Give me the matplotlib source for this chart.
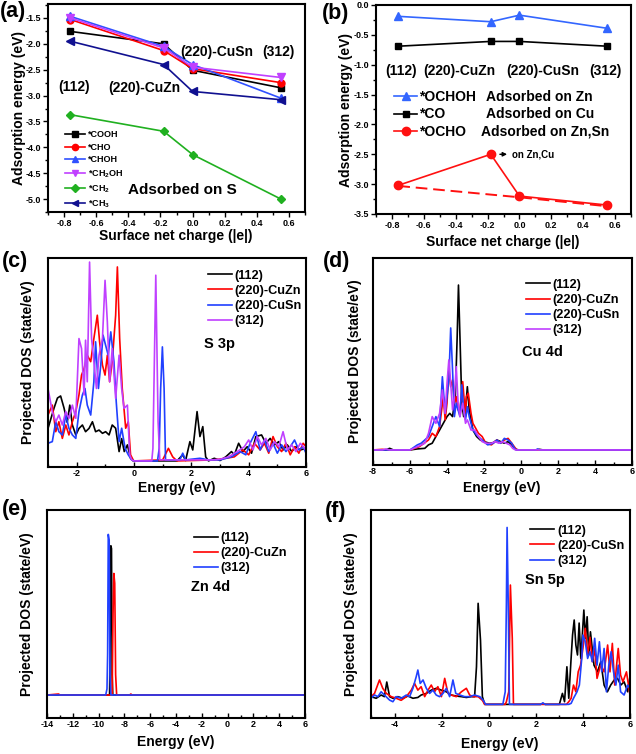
import numpy as np
import matplotlib
matplotlib.use("Agg")
import matplotlib.pyplot as plt
from matplotlib.ticker import MultipleLocator

plt.rcParams['font.family'] = ['Liberation Sans', 'DejaVu Sans']
plt.rcParams['font.weight'] = 'bold'
plt.rcParams['mathtext.default'] = 'regular'
plt.rcParams['axes.unicode_minus'] = False

W, H = 636, 754

# ---------------- data ----------------
charge = [-0.76, -0.18, 0.0, 0.55]

# panel (a), adsorbed on S
e_cooh = [-1.76, -2.00, -2.51, -2.85]
e_cho = [-1.53, -2.13, -2.48, -2.75]
e_choh = [-1.47, -2.05, -2.40, -3.05]
e_ch2oh = [-1.50, -2.08, -2.45, -2.65]
e_ch2 = [-3.37, -3.69, -4.14, -5.00]
e_ch3 = [-1.95, -2.40, -2.92, -3.08]

# panel (b)
e_ochoh = [-0.19, -0.28, -0.17, -0.39]
e_co = [-0.69, -0.61, -0.61, -0.69]
e_ocho = [-3.02, -2.50, -3.20, -3.35]
e_ocho_dash = [-3.03, -3.22, -3.37]
charge_dash = [-0.76, 0.0, 0.55]

facets_ab = ['(112)', '(220)-CuZn', '(220)-CuSn', '(312)']

# panel (c) S 3p, (energy eV, PDOS)
c_112 = [(-3.0, 1.6), (-2.79, 2.6), (-2.67, 3.1), (-2.56, 3.2), (-2.44, 2.6), (-2.33, 1.9),
         (-2.24, 2.75), (-2.15, 1.77), (-2.03, 1.28), (-1.92, 1.6), (-1.80, 1.77), (-1.69, 1.44),
         (-1.57, 1.6), (-1.45, 1.93), (-1.34, 1.44), (-1.22, 1.52), (-1.10, 1.36), (-0.99, 1.44),
         (-0.87, 1.28), (-0.76, 1.77), (-0.64, 1.61), (-0.52, 0.46), (-0.43, 1.1), (-0.34, 0.46),
         (-0.23, 0.79), (-0.12, 0.13), (-0.03, 0.0), (1.5, 0.0), (1.7, 0.3), (1.8, 0.02),
         (1.95, 0.95), (2.05, 0.54), (2.2, 2.43), (2.3, 1.2), (2.4, 1.69), (2.5, 0.2), (2.6, 0.0),
         (2.8, 0.13), (3.0, 0.02), (3.2, 0.2), (3.4, 0.46), (3.5, 0.3), (3.65, 0.87), (3.8, 0.46),
         (3.95, 0.7), (4.1, 0.38), (4.25, 1.2), (4.45, 1.28), (4.6, 0.87), (4.75, 1.11), (4.9, 0.79),
         (5.05, 0.95), (5.2, 0.54), (5.35, 0.79), (5.5, 0.46), (5.65, 0.7), (5.8, 0.54), (6.0, 0.62)]
c_cuzn = [(-3.0, 2.26), (-2.85, 2.75), (-2.73, 1.44), (-2.62, 1.93), (-2.50, 1.11), (-2.38, 1.77),
          (-2.27, 1.28), (-2.15, 1.93), (-2.03, 2.43), (-1.92, 3.25), (-1.83, 4.23), (-1.74, 4.56),
          (-1.63, 5.21), (-1.51, 4.89), (-1.40, 6.03), (-1.28, 7.18), (-1.20, 5.87), (-1.10, 4.72),
          (-1.01, 4.23), (-0.93, 5.21), (-0.85, 3.9), (-0.76, 4.89), (-0.64, 7.18), (-0.58, 9.56),
          (-0.50, 6.03), (-0.41, 3.57), (-0.29, 1.61), (-0.20, 1.93), (-0.12, 0.3), (-0.03, 0.05),
          (0.0, 0.0), (1.0, 0.05), (1.2, 0.62), (1.35, 0.2), (1.5, 0.0), (2.8, 0.05), (3.2, 0.13),
          (3.5, 0.2), (3.8, 0.54), (4.0, 0.3), (4.2, 0.87), (4.4, 0.54), (4.55, 0.87), (4.7, 0.38),
          (4.85, 1.2), (5.0, 0.7), (5.15, 0.46), (5.3, 0.87), (5.45, 0.3), (5.6, 0.7), (5.75, 0.38),
          (5.9, 0.87), (6.0, 0.7)]
c_cusn = [(-3.0, 0.87), (-2.85, 0.95), (-2.73, 1.93), (-2.62, 1.44), (-2.50, 1.28), (-2.38, 2.26),
          (-2.27, 1.61), (-2.15, 1.28), (-2.03, 1.11), (-1.92, 2.43), (-1.80, 3.25), (-1.71, 3.57),
          (-1.63, 2.75), (-1.51, 2.26), (-1.40, 3.9), (-1.34, 5.87), (-1.24, 3.57), (-1.16, 4.72),
          (-1.08, 6.2), (-0.99, 5.7), (-0.90, 5.21), (-0.81, 6.36), (-0.70, 4.89), (-0.62, 2.92),
          (-0.52, 0.95), (-0.43, 1.61), (-0.31, 0.62), (-0.20, 0.3), (-0.08, 0.05), (0.0, 0.0),
          (0.82, 0.0), (0.88, 0.62), (0.93, 3.57), (0.99, 5.62), (1.05, 3.57), (1.1, 0.05),
          (1.6, 0.05), (1.7, 0.38), (1.8, 0.05), (2.3, 0.13), (2.6, 0.05), (3.0, 0.05), (3.4, 0.2),
          (3.7, 0.46), (3.9, 0.3), (4.05, 0.87), (4.25, 1.44), (4.4, 0.54), (4.55, 1.03), (4.7, 0.46),
          (4.85, 0.87), (5.0, 0.38), (5.15, 0.79), (5.3, 0.46), (5.45, 0.7), (5.6, 1.03), (5.75, 0.54),
          (5.9, 0.7), (6.0, 0.38)]
c_312 = [(-3.0, 3.57), (-2.85, 2.43), (-2.73, 1.93), (-2.62, 2.26), (-2.50, 1.77), (-2.38, 2.43),
         (-2.27, 2.1), (-2.15, 2.75), (-2.03, 2.1), (-1.92, 6.03), (-1.83, 5.54), (-1.74, 3.25),
         (-1.69, 5.95), (-1.63, 3.9), (-1.55, 9.8), (-1.48, 6.03), (-1.40, 4.89), (-1.31, 3.57),
         (-1.22, 5.21), (-1.10, 6.03), (-1.01, 8.9), (-0.93, 6.85), (-0.85, 3.9), (-0.76, 5.54),
         (-0.64, 3.08), (-0.52, 5.21), (-0.43, 3.57), (-0.35, 2.59), (-0.23, 2.75), (-0.15, 0.3),
         (-0.08, 0.05), (0.0, 0.0), (0.62, 0.0), (0.66, 0.62), (0.76, 9.15), (0.84, 1.93),
         (0.9, 0.05), (2.7, 0.05), (3.0, 0.08), (3.3, 0.2), (3.6, 0.46), (3.85, 0.7), (4.0, 1.03),
         (4.15, 0.54), (4.3, 1.2), (4.45, 0.79), (4.6, 1.11), (4.75, 0.54), (4.9, 0.95), (5.05, 0.7),
         (5.2, 1.44), (5.35, 0.54), (5.5, 0.79), (5.65, 0.46), (5.8, 0.87), (6.0, 0.54)]

# panel (d) Cu 4d
d_112 = [(-8.0, 0.0), (-7.3, 0.0), (-7.1, 0.08), (-6.9, 0.0), (-6.0, 0.0), (-5.6, 0.05), (-5.2, 0.08),
         (-5.0, 0.25), (-4.8, 0.33), (-4.6, 0.66), (-4.4, 0.98), (-4.2, 1.31), (-4.0, 1.64),
         (-3.85, 1.8), (-3.7, 1.64), (-3.55, 2.62), (-3.45, 5.57), (-3.38, 8.11), (-3.3, 5.57),
         (-3.2, 2.3), (-3.1, 1.64), (-3.0, 1.97), (-2.9, 3.11), (-2.8, 1.97), (-2.7, 1.48),
         (-2.6, 0.98), (-2.4, 0.66), (-2.2, 0.49), (-2.0, 0.41), (-1.7, 0.33), (-1.5, 0.36),
         (-1.3, 0.49), (-1.1, 0.41), (-0.9, 0.33), (-0.7, 0.41), (-0.5, 0.25), (-0.3, 0.03),
         (-0.1, 0.0), (0.8, 0.0), (1.0, 0.03), (1.2, 0.0), (6.0, 0.0)]
d_cuzn = [(-8.0, 0.0), (-7.5, 0.03), (-7.2, 0.0), (-6.0, 0.0), (-5.5, 0.16), (-5.0, 0.49), (-4.8, 0.82),
          (-4.6, 0.66), (-4.4, 1.15), (-4.2, 2.62), (-4.1, 1.48), (-4.0, 2.3), (-3.9, 3.93),
          (-3.8, 3.11), (-3.7, 3.44), (-3.6, 2.3), (-3.5, 2.62), (-3.4, 1.97), (-3.3, 1.97),
          (-3.15, 3.36), (-3.0, 1.64), (-2.95, 2.62), (-2.85, 2.79), (-2.7, 1.8), (-2.6, 1.31),
          (-2.5, 1.15), (-2.3, 0.82), (-2.1, 0.66), (-1.9, 0.33), (-1.6, 0.25), (-1.3, 0.49),
          (-1.1, 0.33), (-0.9, 0.49), (-0.7, 0.57), (-0.5, 0.33), (-0.3, 0.08), (-0.2, 0.0), (6.0, 0.0)]
d_cusn = [(-8.0, 0.0), (-6.0, 0.0), (-5.6, 0.25), (-5.4, 0.33), (-5.2, 0.49), (-5.0, 0.66), (-4.8, 1.15),
          (-4.6, 1.64), (-4.4, 1.15), (-4.25, 3.6), (-4.1, 1.8), (-4.0, 2.62), (-3.9, 3.44),
          (-3.8, 6.0), (-3.7, 3.93), (-3.6, 1.64), (-3.5, 2.3), (-3.4, 1.97), (-3.3, 1.64),
          (-3.2, 3.2), (-3.1, 1.97), (-3.0, 1.48), (-2.9, 2.13), (-2.8, 1.64), (-2.6, 0.98),
          (-2.4, 0.74), (-2.2, 0.57), (-2.0, 0.41), (-1.8, 0.25), (-1.5, 0.33), (-1.3, 0.49),
          (-1.1, 0.33), (-0.9, 0.57), (-0.7, 0.49), (-0.5, 0.33), (-0.35, 0.08), (-0.25, 0.0),
          (0.8, 0.0), (0.9, 0.05), (1.0, 0.0), (6.0, 0.0)]
d_312 = [(-8.0, 0.0), (-7.5, 0.0), (-7.3, 0.05), (-7.1, 0.0), (-6.0, 0.0), (-5.6, 0.16), (-5.2, 0.33),
         (-5.0, 0.82), (-4.8, 1.64), (-4.6, 1.31), (-4.4, 1.8), (-4.25, 2.95), (-4.1, 1.8),
         (-4.0, 3.28), (-3.9, 4.43), (-3.85, 3.93), (-3.7, 1.97), (-3.6, 2.62), (-3.5, 4.1),
         (-3.4, 2.3), (-3.3, 1.64), (-3.15, 2.3), (-3.0, 1.31), (-2.9, 1.48), (-2.7, 0.98),
         (-2.5, 0.98), (-2.3, 0.66), (-2.1, 0.41), (-1.9, 0.33), (-1.6, 0.33), (-1.4, 0.41),
         (-1.2, 0.33), (-1.0, 0.41), (-0.8, 0.33), (-0.6, 0.25), (-0.45, 0.08), (-0.3, 0.0), (6.0, 0.0)]

# panel (e) Zn 4d
e_112 = [(-14.0, 0.0), (-9.15, 0.0), (-9.1, 3.0), (-9.05, 7.34), (-9.0, 7.2), (-8.95, 1.0),
         (-8.9, 0.0), (6.0, 0.0)]
e_cuzn = [(-14.0, 0.0), (-13.1, 0.05), (-13.0, 0.0), (-8.95, 0.0), (-8.88, 4.0), (-8.82, 5.98),
          (-8.75, 5.5), (-8.68, 1.0), (-8.6, 0.0), (-7.6, 0.0), (-7.5, 0.05), (-7.4, 0.0), (6.0, 0.0)]
e_312 = [(-14.0, 0.0), (-9.45, 0.0), (-9.35, 0.3), (-9.3, 2.0), (-9.25, 7.9), (-9.18, 7.6),
         (-9.12, 1.0), (-9.05, 0.0), (6.0, 0.0)]

# panel (f) Sn 5p
f_112 = [(-5.0, 0.38), (-4.78, 0.3), (-4.57, 0.46), (-4.43, 0.38), (-4.33, 1.1), (-4.21, 0.38),
         (-4.07, 0.3), (-3.86, 0.38), (-3.65, 0.3), (-3.43, 0.41), (-3.22, 0.3), (-3.01, 0.34),
         (-2.87, 0.46), (-2.65, 0.54), (-2.44, 0.7), (-2.23, 0.79), (-2.01, 0.7), (-1.8, 0.62),
         (-1.59, 0.46), (-1.38, 0.41), (-1.16, 0.38), (-0.95, 0.34), (-0.74, 0.38), (-0.6, 0.38),
         (-0.52, 1.85), (-0.45, 4.97), (-0.35, 3.16), (-0.27, 0.38), (-0.17, 0.0), (2.2, 0.0),
         (2.3, 0.05), (2.4, 0.0), (3.0, 0.0), (3.13, 0.54), (3.22, 0.13), (3.32, 1.85), (3.4, 0.3),
         (3.49, 2.1), (3.56, 3.41), (3.63, 4.15), (3.7, 2.92), (3.77, 2.43), (3.84, 4.0), (3.91, 2.26),
         (3.98, 3.49), (4.04, 4.64), (4.11, 3.25), (4.18, 4.31), (4.25, 2.43), (4.32, 3.57),
         (4.47, 1.93), (4.62, 1.6), (4.76, 2.1), (4.9, 0.95), (5.04, 0.62), (5.18, 0.95), (5.33, 1.2),
         (5.47, 1.28), (5.61, 0.95), (5.75, 1.11), (5.9, 0.62), (6.0, 1.36)]
f_cusn = [(-5.0, 0.38), (-4.85, 0.54), (-4.64, 1.2), (-4.5, 0.79), (-4.35, 0.54), (-4.14, 0.38),
          (-3.93, 0.3), (-3.72, 0.2), (-3.5, 0.38), (-3.29, 0.7), (-3.15, 1.03), (-3.01, 0.7),
          (-2.87, 0.87), (-2.72, 0.38), (-2.58, 0.7), (-2.44, 0.95), (-2.3, 0.62), (-2.16, 0.87),
          (-2.01, 0.38), (-1.87, 1.28), (-1.73, 0.54), (-1.59, 0.46), (-1.38, 0.38), (-1.16, 0.62),
          (-0.95, 0.79), (-0.81, 0.46), (-0.67, 0.38), (-0.45, 0.38), (-0.27, 0.2), (-0.17, 0.0),
          (0.7, 0.0), (0.75, 0.13), (0.85, 0.62), (0.92, 5.87), (1.0, 3.25), (1.05, 0.0), (3.3, 0.0),
          (3.4, 0.13), (3.5, 0.3), (3.6, 0.95), (3.7, 0.62), (3.8, 1.6), (3.9, 1.93), (4.0, 2.75),
          (4.1, 3.74), (4.2, 2.43), (4.3, 3.3), (4.4, 2.1), (4.5, 2.75), (4.6, 1.28), (4.75, 1.93),
          (4.9, 1.6), (5.05, 2.92), (5.15, 1.6), (5.25, 3.0), (5.35, 0.95), (5.5, 2.75), (5.6, 1.44),
          (5.7, 1.11), (5.85, 1.6), (6.0, 0.46)]
f_312 = [(-5.0, 0.3), (-4.85, 0.46), (-4.71, 0.38), (-4.57, 0.62), (-4.43, 0.46), (-4.21, 0.21),
         (-4.07, 0.13), (-3.93, 0.38), (-3.72, 0.3), (-3.5, 0.46), (-3.36, 0.38), (-3.22, 0.79),
         (-3.08, 1.36), (-3.01, 1.69), (-2.91, 1.03), (-2.79, 1.2), (-2.65, 0.79), (-2.51, 0.54),
         (-2.37, 0.7), (-2.23, 0.46), (-2.09, 0.38), (-1.94, 0.54), (-1.8, 0.79), (-1.66, 0.38),
         (-1.52, 1.2), (-1.4, 0.54), (-1.23, 0.46), (-1.02, 0.38), (-0.81, 0.38), (-0.6, 0.46),
         (-0.38, 0.38), (-0.24, 0.21), (-0.13, 0.0), (0.6, 0.0), (0.7, 0.62), (0.75, 4.9),
         (0.78, 8.7), (0.83, 4.9), (0.88, 0.0), (2.2, 0.0), (2.3, 0.07), (2.4, 0.0), (3.4, 0.0),
         (3.5, 0.05), (3.6, 0.3), (3.75, 0.62), (3.85, 0.95), (3.95, 2.26), (4.0, 3.41), (4.1, 3.08),
         (4.2, 2.26), (4.3, 2.59), (4.4, 2.1), (4.5, 3.25), (4.6, 1.93), (4.7, 3.08), (4.8, 1.61),
         (4.9, 2.75), (5.0, 0.62), (5.1, 1.93), (5.2, 2.59), (5.3, 1.61), (5.4, 0.95), (5.5, 1.93),
         (5.6, 0.62), (5.75, 0.46), (5.9, 0.95), (6.0, 0.79)]

BLACK, RED, BLUE, PURPLE = '#000000', '#ff0000', '#2040ff', '#c040ff'


def px_axes(l, t, r, b):
    return fig.add_axes([l / W, 1 - b / H, (r - l) / W, (b - t) / H])


def style(ax, inward):
    for s in ax.spines.values():
        s.set_linewidth(1.5)
    ax.tick_params(which='both', direction='in' if inward else 'out', width=1.0,
                   labelsize=6.5, pad=1.5)
    ax.tick_params(which='major', length=3.5)
    ax.tick_params(which='minor', length=2)
    for lab in ax.get_xticklabels() + ax.get_yticklabels():
        lab.set_fontweight('bold')


def label(x, y, s, rot=0, size=10):
    fig.text(x / W, 1 - y / H, s, ha='center', va='center', rotation=rot,
             fontsize=size, fontweight='bold')


fig = plt.figure(figsize=(W / 100, H / 100), dpi=100)

# ---------------- (a) ----------------
ax = px_axes(48, 4, 305, 212)
ax.plot(charge, e_cooh, '-s', color='black', ms=5, lw=1.2, label='*COOH')
ax.plot(charge, e_cho, '-o', color='#ff0000', ms=5, lw=1.2, label='*CHO')
ax.plot(charge, e_choh, '-^', color='#3050ff', ms=5.5, lw=1.2, label='*CHOH')
ax.plot(charge, e_ch2oh, '-v', color='#c040ff', ms=5.5, lw=1.2, label='*CH$_2$OH')
ax.plot(charge, e_ch2, '-D', color='#20b020', ms=4.5, lw=1.2, label='*CH$_2$')
ax.plot(charge, e_ch3, '-<', color='#101090', ms=5.5, lw=1.2, label='*CH$_3$')
ax.set_xlim(-0.9, 0.7)
ax.set_ylim(-5.25, -1.23)
ax.xaxis.set_major_locator(MultipleLocator(0.2))
ax.xaxis.set_minor_locator(MultipleLocator(0.1))
ax.yaxis.set_major_locator(MultipleLocator(0.5))
ax.yaxis.set_minor_locator(MultipleLocator(0.25))
style(ax, False)
leg = ax.legend(loc='upper left', bbox_to_anchor=(0.05, 0.415), frameon=False,
                fontsize=6.5, handlelength=2.2, labelspacing=0.4, borderpad=0,
                handletextpad=0.3, markerscale=0.9)
for t in leg.get_texts():
    t.set_fontweight('bold')
ax.text(-0.74, -2.83, facets_ab[0], ha='center', va='center', fontsize=10, fontweight='bold')
ax.text(-0.30, -2.86, facets_ab[1], ha='center', va='center', fontsize=10, fontweight='bold')
ax.text(0.15, -2.15, facets_ab[2], ha='center', va='center', fontsize=10, fontweight='bold')
ax.text(0.535, -2.15, facets_ab[3], ha='center', va='center', fontsize=10, fontweight='bold')
ax.text(-0.065, -4.83, 'Adsorbed on S', ha='center', va='center', fontsize=11, fontweight='bold')

# ---------------- (b) ----------------
ax = px_axes(376, 5, 631, 214)
ax.plot(charge, e_ochoh, '-^', color='#3366ff', ms=6, lw=1.2, label='*OCHOH')
ax.plot(charge, e_co, '-s', color='black', ms=5, lw=1.2, label='*CO')
ax.plot(charge, e_ocho, '-o', color='#ff1010', ms=6, lw=1.2, label='*OCHO')
ax.plot(charge_dash, e_ocho_dash, color='#ff1010', lw=1.4, dashes=(6, 3))
ax.set_xlim(-0.9, 0.7)
ax.set_ylim(-3.5, 0.0)
ax.xaxis.set_major_locator(MultipleLocator(0.2))
ax.xaxis.set_minor_locator(MultipleLocator(0.1))
ax.yaxis.set_major_locator(MultipleLocator(0.5))
ax.yaxis.set_minor_locator(MultipleLocator(0.25))
style(ax, False)
leg = ax.legend(loc='upper left', bbox_to_anchor=(0.045, 0.627), frameon=False,
                fontsize=10, handlelength=1.6, labelspacing=0.25, borderpad=0,
                handletextpad=0.2)
for t in leg.get_texts():
    t.set_fontweight('bold')
for y, s in zip([0.561, 0.477, 0.394], ['Adsorbed on Zn', 'Adsorbed on Cu', 'Adsorbed on Zn,Sn']):
    ax.text(0.43 if 'Sn' not in s else 0.41, y, s, transform=ax.transAxes, ha='left',
            va='center', fontsize=10, fontweight='bold')
for x, s in zip([-0.745, -0.38, 0.145, 0.54], facets_ab):
    ax.text(x, -1.10, s, ha='center', va='center', fontsize=10, fontweight='bold')
ax.annotate('', xy=(-0.06, -2.5), xytext=(-0.14, -2.5),
            arrowprops=dict(arrowstyle='-|>', color='black', lw=1.0, mutation_scale=6))
ax.text(-0.045, -2.5, 'on Zn,Cu', ha='left', va='center', fontsize=7, fontweight='bold')


def dos_panel(box, curves, labels, colors, xlim, ylim, title, legpos, titlepos, xmaj):
    ax = px_axes(*box)
    for data, lab, col in zip(curves, labels, colors):
        arr = np.array(data)
        ax.plot(arr[:, 0], arr[:, 1], color=col, lw=1.2, label=lab)
    ax.set_xlim(*xlim)
    ax.set_ylim(*ylim)
    ax.set_yticks([])
    ax.xaxis.set_major_locator(MultipleLocator(xmaj))
    ax.xaxis.set_minor_locator(MultipleLocator(xmaj / 2))
    style(ax, True)
    leg = ax.legend(loc='upper left', bbox_to_anchor=legpos, frameon=False, fontsize=9.2,
                    handlelength=1.9, labelspacing=0.25, borderpad=0, handletextpad=0.2)
    for t in leg.get_texts():
        t.set_fontweight('bold')
    ax.text(titlepos[0], titlepos[1], title, transform=ax.transAxes, ha='left', va='center',
            fontsize=10.5, fontweight='bold')
    return ax


dos_panel((48, 258, 306, 467), [c_112, c_cuzn, c_cusn, c_312],
          ['(112)', '(220)-CuZn', '(220)-CuSn', '(312)'], [BLACK, RED, BLUE, PURPLE],
          (-3, 6), (-0.3, 10.0), 'S 3p', (0.595, 0.975), (0.605, 0.59), 2)
dos_panel((373, 258, 632, 465), [d_112, d_cuzn, d_cusn, d_312],
          ['(112)', '(220)-CuZn', '(220)-CuSn', '(312)'], [BLACK, RED, BLUE, PURPLE],
          (-8, 6), (-0.74, 9.44), 'Cu 4d', (0.565, 0.93), (0.575, 0.546), 2)
dos_panel((47, 510, 305, 718), [e_112, e_cuzn, e_312],
          ['(112)', '(220)-CuZn', '(312)'], [BLACK, RED, BLUE],
          (-14, 6), (-1.13, 9.1), 'Zn 4d', (0.545, 0.925), (0.56, 0.63), 2)
dos_panel((371, 510, 630, 718), [f_112, f_cusn, f_312],
          ['(112)', '(220)-CuSn', '(312)'], [BLACK, RED, BLUE],
          (-5, 6), (-0.67, 9.56), 'Sn 5p', (0.59, 0.96), (0.593, 0.663), 2)

# axis titles
label(19, 108, 'Adsorption energy (eV)', 90)
label(176, 236, 'Surface net charge (|e|)')
label(346, 110, 'Adsorption energy (eV)', 90)
label(503, 242, 'Surface net charge (|e|)')
label(28, 362, 'Projected DOS (state/eV)', 90)
label(177, 488, 'Energy (eV)')
label(355, 361, 'Projected DOS (state/eV)', 90)
label(502, 488, 'Energy (eV)')
label(27, 614, 'Projected DOS (state/eV)', 90)
label(176, 742, 'Energy (eV)')
label(351, 614, 'Projected DOS (state/eV)', 90)
label(500, 744, 'Energy (eV)')

# panel letters
for x, y, s in [(13, 12, '(a)'), (336, 13, '(b)'), (15, 261, '(c)'), (337, 262, '(d)'),
                (15, 510, '(e)'), (336, 511, '(f)')]:
    label(x, y, s, size=15.5)

fig.savefig('out.png', dpi=100)
